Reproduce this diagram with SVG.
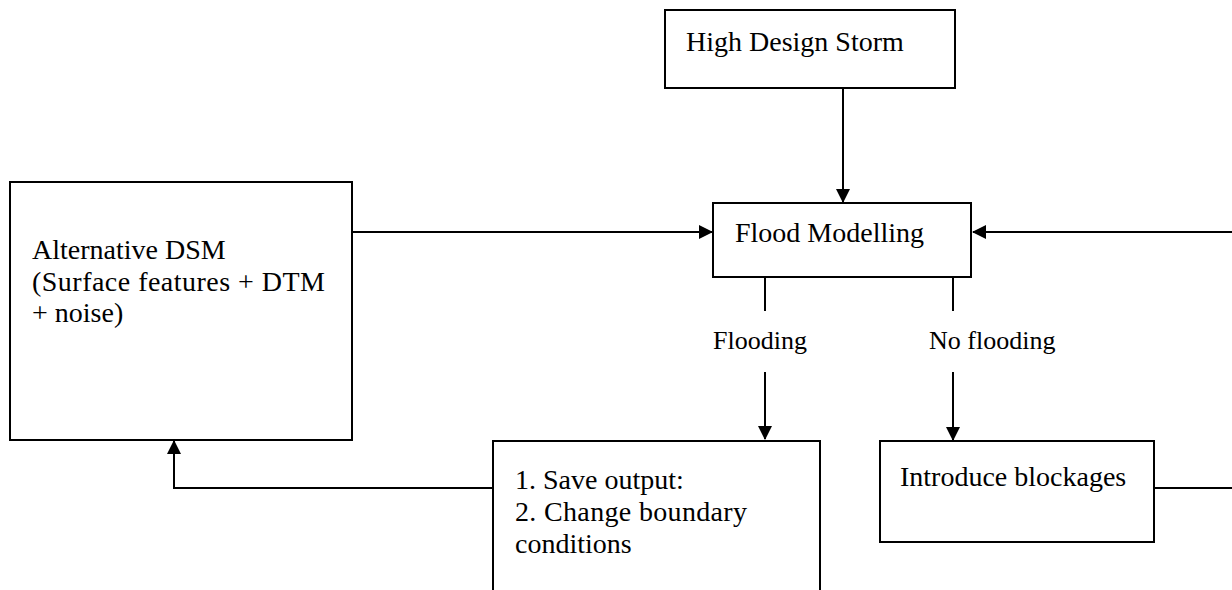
<svg xmlns="http://www.w3.org/2000/svg" width="1232" height="590" viewBox="0 0 1232 590">
<style>
.box{fill:#fff;stroke:#000;stroke-width:2}
.t{font-family:"Liberation Serif","Times New Roman",serif;font-size:28px;fill:#000}
.lbl{font-family:"Liberation Serif","Times New Roman",serif;font-size:26px;fill:#000}
.c{fill:none;stroke:#000;stroke-width:2}
</style>
<defs>
<marker id="ah" markerWidth="14" markerHeight="14" refX="13" refY="7" orient="auto" markerUnits="userSpaceOnUse">
<path d="M0,0 L14,7 L0,14 Z" fill="#000"/>
</marker>
</defs>
<rect width="1232" height="590" fill="#fff"/>
<g id="connectors">
<line class="c" x1="843" y1="88" x2="843" y2="202" marker-end="url(#ah)"/>
<line class="c" x1="352" y1="232" x2="712" y2="232" marker-end="url(#ah)"/>
<line class="c" x1="1232" y1="232" x2="973" y2="232" marker-end="url(#ah)"/>
<line class="c" x1="765" y1="277" x2="765" y2="311"/>
<line class="c" x1="765" y1="372" x2="765" y2="439" marker-end="url(#ah)"/>
<line class="c" x1="953" y1="277" x2="953" y2="311"/>
<line class="c" x1="953" y1="372" x2="953" y2="440" marker-end="url(#ah)"/>
<line class="c" x1="1154" y1="488" x2="1232" y2="488"/>
<polyline class="c" points="493,488 174,488 174,441" marker-end="url(#ah)"/>
<text class="lbl" x="713" y="349">Flooding</text>
<text class="lbl" x="929" y="349">No flooding</text>
</g>
<g id="storm">
<rect class="box" x="665" y="10" width="290" height="78"/>
<text class="t" x="686" y="51">High Design Storm</text>
</g>
<g id="flood">
<rect class="box" x="713" y="203" width="258" height="74"/>
<text class="t" x="735" y="242">Flood Modelling</text>
</g>
<g id="dsm">
<rect class="box" x="10" y="182" width="342" height="258"/>
<text class="t" x="32" y="259">Alternative DSM</text>
<text class="t" x="32" y="291" textLength="293" lengthAdjust="spacing">(Surface features + DTM</text>
<text class="t" x="32" y="322">+ noise)</text>
</g>
<g id="save">
<rect class="box" x="493" y="441" width="327" height="160"/>
<text class="t" x="515" y="489">1. Save output:</text>
<text class="t" x="515" y="521" textLength="232" lengthAdjust="spacing">2. Change boundary</text>
<text class="t" x="515" y="553">conditions</text>
</g>
<g id="blockages">
<rect class="box" x="880" y="441" width="274" height="101"/>
<text class="t" x="900" y="486">Introduce blockages</text>
</g>
</svg>
